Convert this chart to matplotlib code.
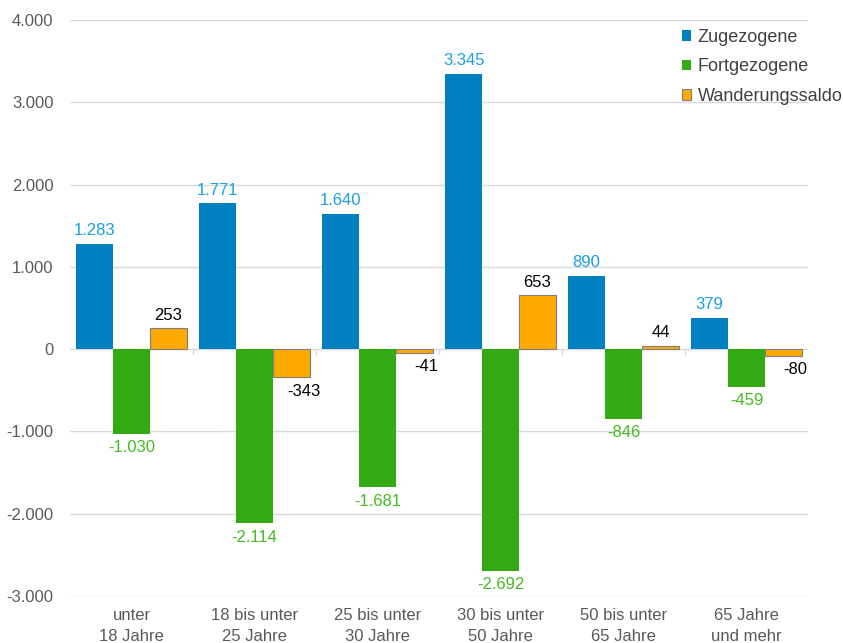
import matplotlib.pyplot as plt
import numpy as np

plt.rcParams['font.family'] = ['Liberation Sans', 'DejaVu Sans']

categories = ["unter\n18 Jahre", "18 bis unter\n25 Jahre", "25 bis unter\n30 Jahre",
              "30 bis unter\n50 Jahre", "50 bis unter\n65 Jahre", "65 Jahre\nund mehr"]
zugezogene = [1283, 1771, 1640, 3345, 890, 379]
fortgezogene = [-1030, -2114, -1681, -2692, -846, -459]
saldo = [253, -343, -41, 653, 44, -80]
yticks = [-3000, -2000, -1000, 0, 1000, 2000, 3000, 4000]
ytick_labels = ["-3.000", "-2.000", "-1.000", "0", "1.000", "2.000", "3.000", "4.000"]


def fmt(v):
    return f"{v:,}".replace(",", ".")


fig = plt.figure(figsize=(8.43, 6.43), dpi=100)
ax = fig.add_axes([70 / 843, 1 - 596 / 643, 738 / 843, 576 / 643])

x = np.arange(len(categories))
w = 0.3
c_blue, c_green, c_orange = "#0080C0", "#33AA14", "#FFAA00"
fs = 12

ax.bar(x - w, zugezogene, w, color=c_blue, label="Zugezogene", zorder=3)
ax.bar(x, fortgezogene, w, color=c_green, label="Fortgezogene", zorder=3)
ax.bar(x + w, saldo, w, color=c_orange, edgecolor="#7f7f7f", linewidth=0.8,
       label="Wanderungssaldo", zorder=3)

# value labels
for xi, v in zip(x - w, zugezogene):
    ax.text(xi, v + 70, fmt(v), ha="center", va="bottom", fontsize=fs, color="#1AA0E0")
for xi, v in zip(x, fortgezogene):
    ax.text(xi, v - 80, fmt(v), ha="center", va="top", fontsize=fs, color="#44BB22")
for xi, v in zip(x + w, saldo):
    if v >= 0:
        ax.text(xi, v + 70, fmt(v), ha="center", va="bottom", fontsize=fs, color="black")
    else:
        ax.text(xi + 0.1, v - 80, fmt(v), ha="center", va="top", fontsize=fs, color="black")

ax.set_ylim(-3000, 4000)
ax.set_xlim(-0.5, len(categories) - 0.5)
ax.set_yticks(yticks)
ax.set_yticklabels(ytick_labels)
ax.set_xticks(x)
ax.set_xticklabels(categories, linespacing=1.45)
ax.yaxis.grid(True, color="#d9d9d9", linewidth=1, zorder=0)
ax.tick_params(axis="y", length=0, labelsize=fs, labelcolor="#595959", pad=12)
ax.tick_params(axis="x", length=0, labelsize=fs, labelcolor="#595959", pad=9)
for s in ax.spines.values():
    s.set_visible(False)

# small tick marks on the zero line between groups
for b in np.arange(0.5, len(categories) - 0.5, 1.0):
    ax.plot([b, b], [0, -60], color="#d9d9d9", linewidth=1, zorder=2)

ax.legend(loc="upper right", bbox_to_anchor=(1.069, 1.013), frameon=False, fontsize=13,
          handlelength=0.55, handleheight=0.55, handletextpad=0.35, labelspacing=0.7,
          labelcolor="#404040")

fig.savefig("out.png", dpi=100)
